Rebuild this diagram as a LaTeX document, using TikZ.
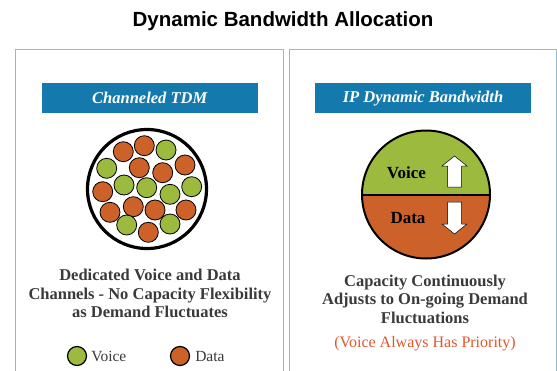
\documentclass[tikz,border=0pt]{standalone}
\usepackage{fontspec}
\setmainfont{Liberation Serif}
\newfontfamily\headfont{Liberation Sans}
\usetikzlibrary{positioning}
\definecolor{barblue}{HTML}{1479AD}
\definecolor{panelblue}{HTML}{8DBBD6}
\definecolor{voicegreen}{HTML}{9BBA3E}
\definecolor{dataorange}{HTML}{CC6229}
\definecolor{textgray}{HTML}{3A3A3A}
\definecolor{prioorange}{HTML}{E2562C}

\begin{document}
\begin{tikzpicture}[
    x=1pt,y=-1pt,
    panel/.style={draw=panelblue,line width=0.9pt},
    titlebar/.style={fill=barblue,minimum width=216pt,minimum height=30pt,inner sep=0pt,
      text=white,font=\fontsize{16.5}{18}\selectfont\bfseries\itshape},
    chan/.style={draw=black,line width=0.8pt},
    desc/.style={align=center,text=textgray,font=\fontsize{16.5}{18.5}\selectfont\bfseries},
    legdot/.style={circle,draw=black,line width=1.2pt,minimum size=19pt,inner sep=0pt},
    legtext/.style={font=\fontsize{15.5}{17}\selectfont,text=textgray,inner sep=1pt},
    bwarrow/.style={fill=white,draw=black,line width=0.5pt},
    halflab/.style={font=\fontsize{17}{19}\selectfont\bfseries},
  ]
  \useasboundingbox (0,0) rectangle (557,370);
  \fill[white] (0,0) rectangle (557,370);

  % heading and the two open-bottom panels
  \node[font=\headfont\bfseries\fontsize{20.5}{23}\selectfont] (head) at (283,21) {Dynamic Bandwidth Allocation};
  \draw[panel] (15,372) -- (15,49) -- (283.5,49) -- (283.5,372);
  \draw[panel] (289,372) -- (289,49) -- (556,49) -- (556,372);

  \node[titlebar] (tdm) at (149.7,97.7) {Channeled TDM};
  \node[titlebar] (ipbw) at (423,98.3) {IP Dynamic Bandwidth};

  % left: bundle of fixed channels, x/y/colour
  \draw[black,line width=3.2pt] (147,189) circle (59.5);
  \foreach \cx/\cy/\col in {123.3/151.7/dataorange,144.3/145.7/dataorange,166/150/voicegreen,
      106.7/168.3/voicegreen,139.3/167.7/dataorange,162.7/172.7/dataorange,185/165/dataorange,
      102.7/191.7/dataorange,124/185/voicegreen,146.7/187.7/voicegreen,170/194.3/voicegreen,
      191.7/186.7/voicegreen,110/212.3/dataorange,133.3/206.7/dataorange,155/210/dataorange,
      186/210/dataorange,126.7/225/voicegreen,148.3/232.3/dataorange,170/224/voicegreen} {
    \draw[chan,fill=\col] (\cx,\cy) circle (10);
  }

  % right: shared pipe, split at the middle (y runs down, so angles flip)
  \fill[dataorange] (362,194.5) arc[start angle=180,end angle=0,radius=64] -- cycle;
  \fill[voicegreen] (362,194.5) arc[start angle=-180,end angle=0,radius=64] -- cycle;
  \draw[black,line width=2pt] (426,194.5) circle (64);
  \draw[black,line width=2pt] (362,194.5) -- (490,194.5);
  \node[halflab] (vlab) at (406.5,172.5) {Voice};
  \node[halflab] (dlab) at (408,218) {Data};
  \draw[bwarrow] (454.5,156) -- (467,166) -- (461.5,166) -- (461.5,187) -- (447.5,187)
    -- (447.5,166) -- (442,166) -- cycle;
  \draw[bwarrow] (447.5,202) -- (461.5,202) -- (461.5,224) -- (467,224) -- (454.5,234)
    -- (442,224) -- (447.5,224) -- cycle;

  % captions
  \node[desc] (tdmtxt) at (150,293.5) {Dedicated Voice and Data\\Channels - No Capacity Flexibility\\as Demand Fluctuates};
  \node[desc] (iptxt) at (425,299) {Capacity Continuously\\Adjusts to On-going Demand\\Fluctuations};
  \node[font=\fontsize{16}{18}\selectfont,text=prioorange] (prio) at (425,344) {(Voice Always Has Priority)};

  % legend
  \node[legdot,fill=voicegreen] (legv) at (77,356) {};
  \node[legtext,right=3pt of legv] (legvt) {Voice};
  \node[legdot,fill=dataorange] (legd) at (180,356) {};
  \node[legtext,right=4pt of legd] (legdt) {Data};
\end{tikzpicture}
\end{document}
